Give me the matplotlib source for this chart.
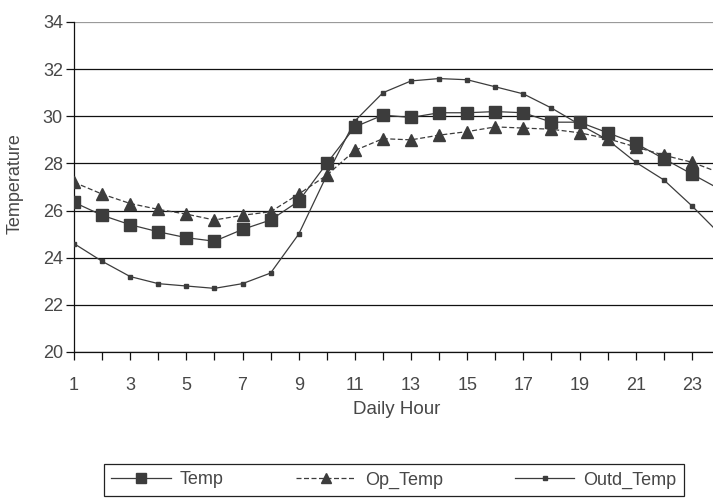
import matplotlib
matplotlib.use("Agg")
import matplotlib.pyplot as plt

# Hourly temperatures over one day
hours = list(range(1, 25))
temp = [26.35, 25.8, 25.4, 25.1, 24.85, 24.7, 25.2, 25.6, 26.4, 28.0, 29.55, 30.05,
        29.95, 30.15, 30.15, 30.2, 30.15, 29.75, 29.75, 29.3, 28.85, 28.2, 27.55, 26.9]
op_temp = [27.2, 26.7, 26.3, 26.05, 25.85, 25.6, 25.8, 25.95, 26.7, 27.5, 28.55, 29.05,
           29.0, 29.2, 29.35, 29.55, 29.5, 29.45, 29.3, 29.05, 28.7, 28.35, 28.05, 27.6]
outd_temp = [24.6, 23.85, 23.2, 22.9, 22.8, 22.7, 22.9, 23.35, 25.0, 27.5, 29.8, 31.0,
             31.5, 31.6, 31.55, 31.25, 30.95, 30.35, 29.65, 29.0, 28.05, 27.3, 26.2, 25.0]

y_ticks = [20, 22, 24, 26, 28, 30, 32, 34]
x_tick_labels = [str(h) if h % 2 else "" for h in hours]

plt.rcParams["font.family"] = ["Liberation Sans", "DejaVu Sans"]
TEXT = "#474747"
INK = "#3c3c3c"

W, H = 713, 503
fig = plt.figure(figsize=(W / 100, H / 100), dpi=100)
fig.patch.set_facecolor("white")

# plot area runs past the right edge of the canvas
ax = fig.add_axes([74 / W, 151 / H, 646 / W, 330 / H])
ax.set_xlim(1, 24)
ax.set_ylim(20, 34)

ax.plot(hours, temp, color=INK, lw=0.9, marker="s", ms=9,
        mfc=INK, mec=INK, label="Temp", zorder=3)
ax.plot(hours, op_temp, color=INK, lw=0.9, ls=(0, (4, 2)), marker="^", ms=9,
        mfc=INK, mec=INK, label="Op_Temp", zorder=4)
ax.plot(hours, outd_temp, color=INK, lw=0.9, marker="s", ms=3,
        mfc=INK, mec=INK, label="Outd_Temp", zorder=5)

ax.set_yticks(y_ticks)
ax.set_xticks(hours)
ax.set_xticklabels(x_tick_labels)
ax.yaxis.grid(True, color="#111111", lw=0.9)
ax.yaxis.get_gridlines()[-1].set_color("#9a9a9a")
ax.set_axisbelow(True)

for side in ("top", "right"):
    ax.spines[side].set_visible(False)
for side in ("left", "bottom"):
    ax.spines[side].set_color("#111111")
    ax.spines[side].set_linewidth(0.9)

ax.tick_params(axis="x", direction="out", length=6, width=0.9, pad=12,
               labelsize=13, labelcolor=TEXT, color="#111111")
ax.tick_params(axis="y", direction="out", length=6, width=0.9, pad=2,
               labelsize=13, labelcolor=TEXT, color="#111111")

fig.text(15 / W, (H - 184) / H, "Temperature", rotation=90, ha="center",
         va="center", fontsize=13, color=TEXT)
fig.text(397 / W, (H - 410) / H, "Daily Hour", ha="center", va="center",
         fontsize=13.5, color=TEXT)

leg = fig.legend(loc="center", bbox_to_anchor=(394 / W, (H - 480) / H), ncol=3,
                 fontsize=13, frameon=True, fancybox=False, framealpha=1,
                 edgecolor="#222222", borderpad=0.4, handlelength=3.3,
                 handletextpad=0.5, columnspacing=4.0, borderaxespad=0,
                 markerscale=0.75)
leg.get_frame().set_linewidth(0.9)
for t in leg.get_texts():
    t.set_color(TEXT)

fig.savefig("out.png", dpi=100, facecolor="white")
